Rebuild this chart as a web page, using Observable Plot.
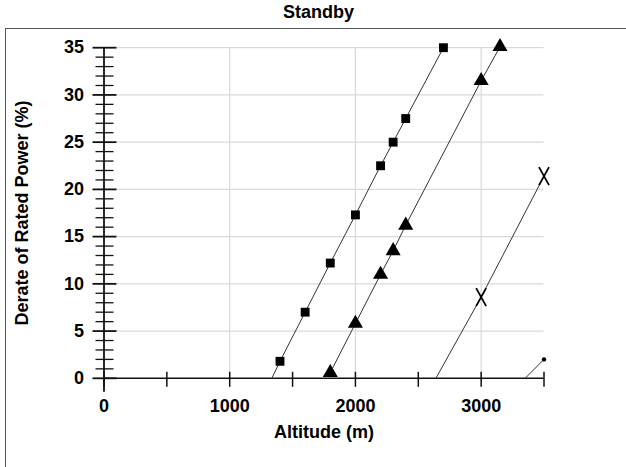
<!DOCTYPE html>
<html><head><meta charset="utf-8">
<script src="https://cdn.jsdelivr.net/npm/d3@7"></script>
<script src="https://cdn.jsdelivr.net/npm/@observablehq/plot@0.6"></script>
<style>
body{margin:0;background:#fff;}
#wrap{position:relative;width:626px;height:467px;overflow:hidden;font-family:Arial,"Liberation Sans",sans-serif;}
#title{position:absolute;left:0;top:1px;width:637px;text-align:center;font-weight:bold;font-size:18px;line-height:22px;color:#000;}
#frame{position:absolute;left:5px;top:28px;width:640px;height:460px;border-left:1px solid #555;border-top:1px solid #555;}
#chart{position:absolute;left:0;top:0;}
</style></head><body>
<div id="wrap"><div id="frame"></div><div id="title"></div><div id="chart"></div></div>
<script>
const titleText = "Standby";
const xLabel = "Altitude (m)";
const yLabel = "Derate of Rated Power (%)";

const xTickLabels = [0, 1000, 2000, 3000];
const xTickMarks = [0, 500, 1000, 1500, 2000, 2500, 3000, 3500];
const yTickLabels = [0, 5, 10, 15, 20, 25, 30, 35];
const yMinorTicks = [1,2,3,4,6,7,8,9,11,12,13,14,16,17,18,19,21,22,23,24,26,27,28,29,31,32,33,34];
const xGrid = [1000, 2000, 3000];
const yGrid = [5, 10, 15, 20, 25, 30, 35];

// Series 1 (squares)
const squareAlt = [1400, 1600, 1800, 2000, 2200, 2300, 2400, 2700];
const squareDerate = [1.8, 7.0, 12.2, 17.3, 22.5, 25.0, 27.5, 35.0];
const squareStart = [1335, 0];
// Series 2 (triangles)
const triAlt = [1800, 2000, 2200, 2300, 2400, 3000, 3150];
const triDerate = [0.6, 5.8, 11.0, 13.5, 16.2, 31.5, 35.1];
// Series 3 (crosses)
const crossAlt = [3000, 3500];
const crossDerate = [8.6, 21.4];
const crossStart = [2640, 0];
// Series 4 (small dot)
const dotAlt = [3500];
const dotDerate = [2.0];
const dotStart = [3350, 0];

document.getElementById("title").textContent = titleText;

const rows = (xs, ys) => xs.map((a, i) => ({alt: a, d: ys[i]}));
const sq = rows(squareAlt, squareDerate);
const tri = rows(triAlt, triDerate);
const cr = rows(crossAlt, crossDerate);
const dt = rows(dotAlt, dotDerate);
const sqLine = [{alt: squareStart[0], d: squareStart[1]}, ...sq];
const crLine = [{alt: crossStart[0], d: crossStart[1]}, ...cr];
const dtLine = [{alt: dotStart[0], d: dotStart[1]}, ...dt];

const crossSymbol = {
  draw(ctx) {
    ctx.moveTo(-5, -9); ctx.lineTo(5, 9);
    ctx.moveTo(5, -9); ctx.lineTo(-5, 9);
  }
};

const lineStyle = {x: "alt", y: "d", stroke: "#333", strokeWidth: 1};

const plot = Plot.plot({
  width: 626,
  height: 467,
  marginLeft: 103.5,
  marginRight: 82.5,
  marginTop: 47.2,
  marginBottom: 89.2,
  style: {fontFamily: "Arial, 'Liberation Sans', sans-serif", fontSize: "18px", fontWeight: "bold", background: "transparent", color: "#000"},
  x: {domain: [0, 3500], axis: null},
  y: {domain: [0, 35], axis: null},
  marks: [
    Plot.ruleY(yGrid, {x1: 0, x2: 3500, stroke: "#d9d9d9", strokeWidth: 1.2, insetLeft: 13}),
    Plot.ruleX(xGrid, {y1: 0, y2: 35, stroke: "#d9d9d9", strokeWidth: 1.2}),
    // axes lines
    Plot.ruleY([0], {x1: 0, x2: 3500, stroke: "#111", strokeWidth: 1.5}),
    Plot.ruleX([0], {y1: 0, y2: 35, stroke: "#111", strokeWidth: 1.8}),
    Plot.ruleX([0], {y1: 0, y2: 0, insetTop: 0, insetBottom: -14, stroke: "#111", strokeWidth: 1.8}),
    // ticks
    Plot.ruleX(xTickMarks, {y1: 0, y2: 0, insetTop: -6, insetBottom: -9, stroke: "#111", strokeWidth: 1.5}),
    Plot.ruleY(yTickLabels, {x1: 0, x2: 0, insetLeft: -11, insetRight: -13, stroke: "#111", strokeWidth: 1.8}),
    Plot.ruleY(yMinorTicks, {x1: 0, x2: 0, insetLeft: -8, insetRight: -10, stroke: "#111", strokeWidth: 1.3}),
    Plot.axisY({ticks: yTickLabels, tickSize: 0, tickPadding: 20, label: null, tickFormat: d => String(d)}),
    Plot.axisX({ticks: xTickLabels, tickSize: 0, tickPadding: 21, label: null, tickFormat: d => String(d)}),
    // lines
    Plot.line(sqLine, lineStyle),
    Plot.line(tri, lineStyle),
    Plot.line(crLine, lineStyle),
    Plot.line(dtLine, lineStyle),
    // markers
    Plot.dot(sq, {x: "alt", y: "d", symbol: "square", r: 5, fill: "#000"}),
    Plot.dot(tri, {x: "alt", y: "d", symbol: "triangle", r: 5.6, fill: "#000"}),
    Plot.dot(cr, {x: "alt", y: "d", symbol: crossSymbol, stroke: "#000", strokeWidth: 1.8, fill: "none"}),
    Plot.dot(dt, {x: "alt", y: "d", r: 2.2, fill: "#000"}),
    // axis titles
    Plot.text([xLabel], {text: d => d, frameAnchor: "bottom", dy: 60, fontSize: 18, fontWeight: "bold"}),
    Plot.text([yLabel], {text: d => d, frameAnchor: "left", textAnchor: "middle", dx: -82, rotate: -90, fontSize: 18, fontWeight: "bold"})
  ]
});
document.getElementById("chart").appendChild(plot);
</script>
</body></html>
